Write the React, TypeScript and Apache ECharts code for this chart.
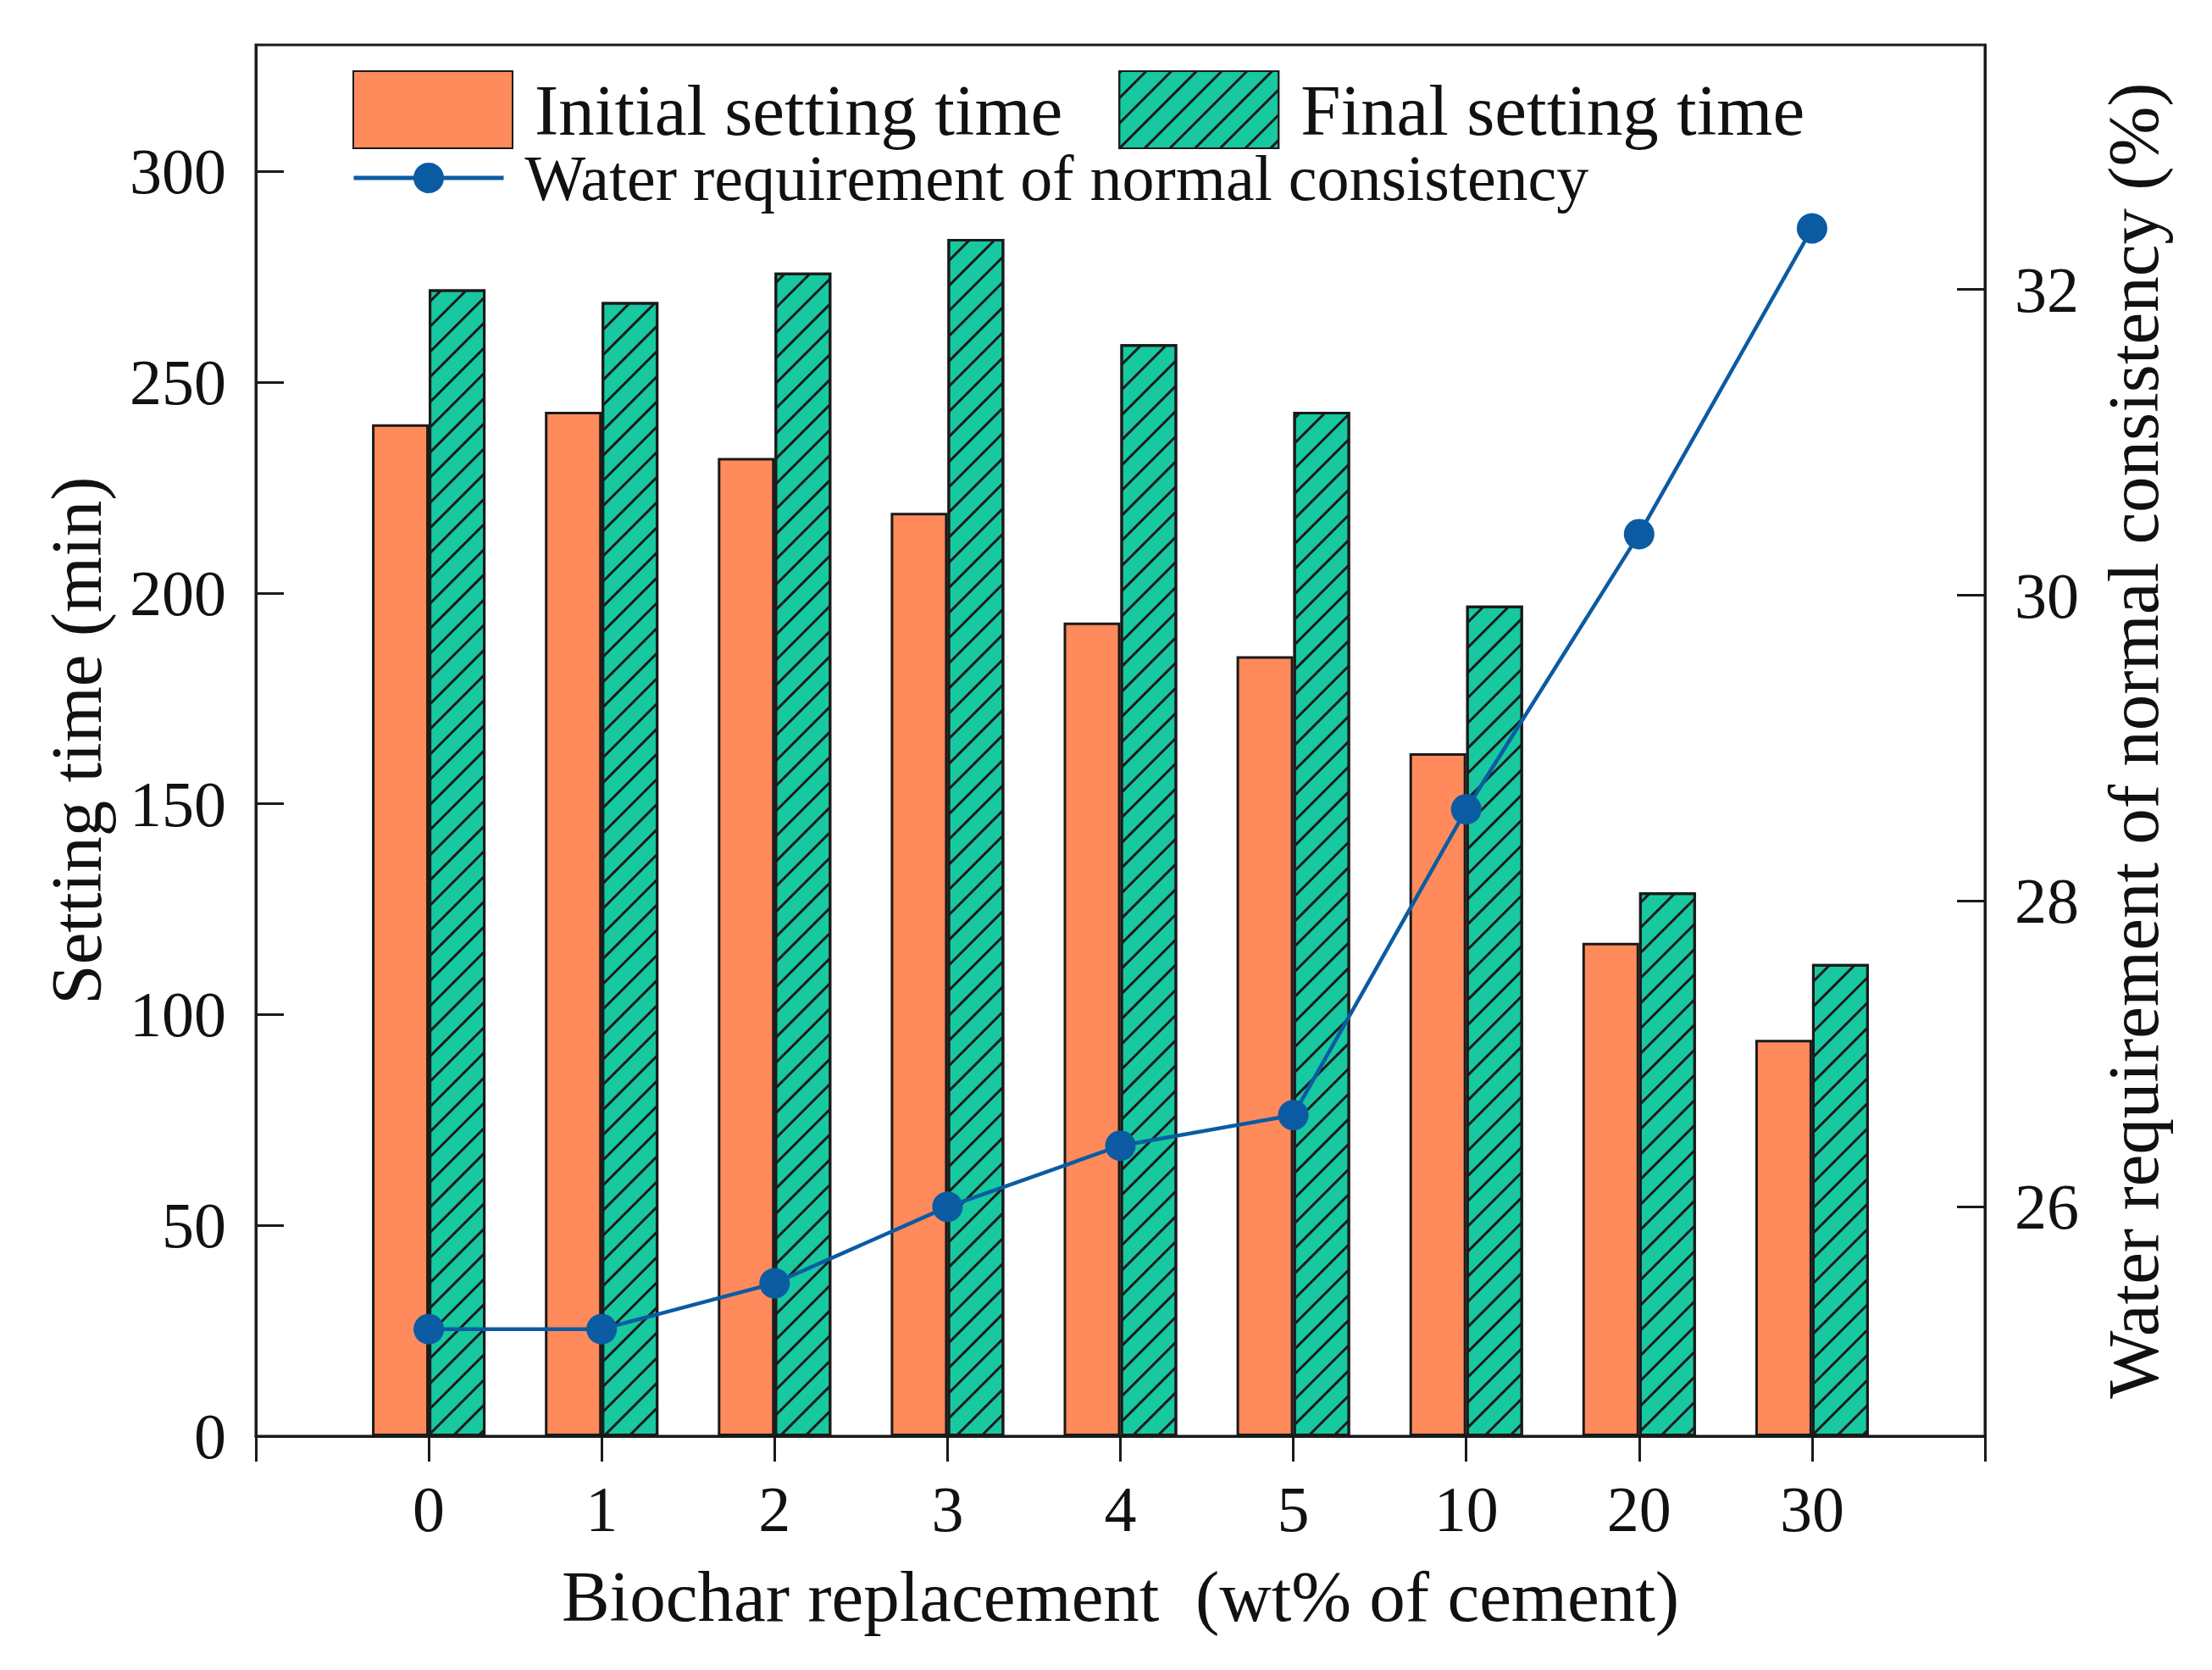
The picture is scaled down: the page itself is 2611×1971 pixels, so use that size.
import React, { useEffect, useRef } from 'react';
import * as echarts from 'echarts';

const categories = ['0', '1', '2', '3', '4', '5', '10', '20', '30'];
const initialSetting = [240, 243, 232, 219, 193, 185, 162, 117, 94];
const finalSetting = [272, 269, 276, 284, 259, 243, 197, 129, 112];
const waterRequirement = [25.2, 25.2, 25.5, 26.0, 26.4, 26.6, 28.6, 30.4, 32.4];
const leftTicks = [0, 50, 100, 150, 200, 250, 300];
const rightTicks = [26, 28, 30, 32];

const FONT = "'Liberation Serif', 'Times New Roman', serif";
const INK = '#1a1a1a';
const ORANGE = '#FF8A5B';
const GREEN = '#17C8A0';
const BLUE = '#0B5BA3';

export default function App() {
  const ref = useRef<HTMLDivElement>(null);

  useEffect(() => {
    if (!ref.current) return;
    const chart = echarts.init(ref.current, undefined, { renderer: 'svg' });
    const axisLine = { show: true, onZero: false, lineStyle: { color: INK, width: 3 } };
    const option = {
      animation: false,
      backgroundColor: '#ffffff',
      textStyle: { fontFamily: FONT, color: '#111' },
      grid: {
        left: 302,
        top: 53,
        right: 268,
        bottom: 276,
        show: true,
        borderColor: INK,
        borderWidth: 3,
        backgroundColor: 'transparent',
      },
      legend: [
        {
          data: ['Initial setting time', 'Final setting time'],
          left: 416,
          top: 83,
          padding: 0,
          icon: 'rect',
          itemWidth: 188,
          itemHeight: 91,
          itemGap: 66,
          selectedMode: false,
          textStyle: { fontFamily: FONT, fontSize: 85, color: '#111', padding: [0, 0, 0, 21] },
        },
        {
          data: ['Water requirement of normal consistency'],
          left: 415,
          top: 172,
          padding: 0,
          itemWidth: 177,
          itemHeight: 45,
          selectedMode: false,
          lineStyle: { color: BLUE, width: 5 },
          textStyle: { fontFamily: FONT, fontSize: 76, color: '#111', padding: [0, 0, 0, 20] },
        },
      ],
      xAxis: {
        type: 'value',
        min: -1,
        max: 9,
        interval: 1,
        axisLine,
        axisTick: { show: true, inside: false, length: 30, lineStyle: { color: INK, width: 3 } },
        axisLabel: {
          fontFamily: FONT,
          fontSize: 76,
          color: '#111',
          margin: 48,
          formatter: (v: number) => categories[v] ?? '',
        },
        splitLine: { show: false },
        name: 'Biochar replacement  (wt% of cement)',
        nameLocation: 'middle',
        nameGap: 146,
        nameTextStyle: { fontFamily: FONT, fontSize: 85, color: '#111' },
      },
      yAxis: [
        {
          type: 'value',
          position: 'left',
          min: 0,
          max: 330,
          axisLine,
          axisTick: {
            show: true,
            inside: true,
            length: 33,
            customValues: leftTicks,
            lineStyle: { color: INK, width: 3 },
          },
          axisLabel: {
            customValues: leftTicks,
            fontFamily: FONT,
            fontSize: 76,
            color: '#111',
            margin: 35,
          },
          splitLine: { show: false },
          name: 'Setting time (min)',
          nameLocation: 'middle',
          nameRotate: 90,
          nameGap: 170,
          nameTextStyle: { fontFamily: FONT, fontSize: 85, color: '#111' },
        },
        {
          type: 'value',
          position: 'right',
          min: 24.5,
          max: 33.6,
          axisLine,
          axisTick: {
            show: true,
            inside: true,
            length: 33,
            customValues: rightTicks,
            lineStyle: { color: INK, width: 3 },
          },
          axisLabel: {
            customValues: rightTicks,
            fontFamily: FONT,
            fontSize: 76,
            color: '#111',
            margin: 35,
          },
          splitLine: { show: false },
          name: 'Water requirement of normal consistency (%)',
          nameLocation: 'middle',
          nameRotate: 90,
          nameGap: 132,
          nameTextStyle: { fontFamily: FONT, fontSize: 85, color: '#111' },
        },
      ],
      series: [
        {
          type: 'bar',
          name: 'Initial setting time',
          data: initialSetting.map((v, i) => [i, v]),
          barWidth: 67,
          barGap: '0%',
          itemStyle: { color: ORANGE, borderColor: INK, borderWidth: 3 },
        },
        {
          type: 'bar',
          name: 'Final setting time',
          data: finalSetting.map((v, i) => [i, v]),
          barWidth: 67,
          barGap: '0%',
          itemStyle: {
            color: GREEN,
            borderColor: INK,
            borderWidth: 3,
            decal: {
              symbol: 'rect',
              symbolSize: 1,
              color: INK,
              dashArrayX: [1, 0],
              dashArrayY: [3, 18],
              rotation: -Math.PI / 4,
            },
          },
        },
        {
          type: 'line',
          name: 'Water requirement of normal consistency',
          yAxisIndex: 1,
          data: waterRequirement.map((v, i) => [i, v]),
          symbol: 'circle',
          symbolSize: 36,
          itemStyle: { color: BLUE },
          lineStyle: { color: BLUE, width: 4.5 },
          z: 5,
        },
      ],
    };
    chart.setOption(option as any);
    return () => chart.dispose();
  }, []);

  return (
    <div
      ref={ref}
      style={{ position: 'fixed', left: 0, top: 0, width: 2611, height: 1971, background: '#fff' }}
    />
  );
}
